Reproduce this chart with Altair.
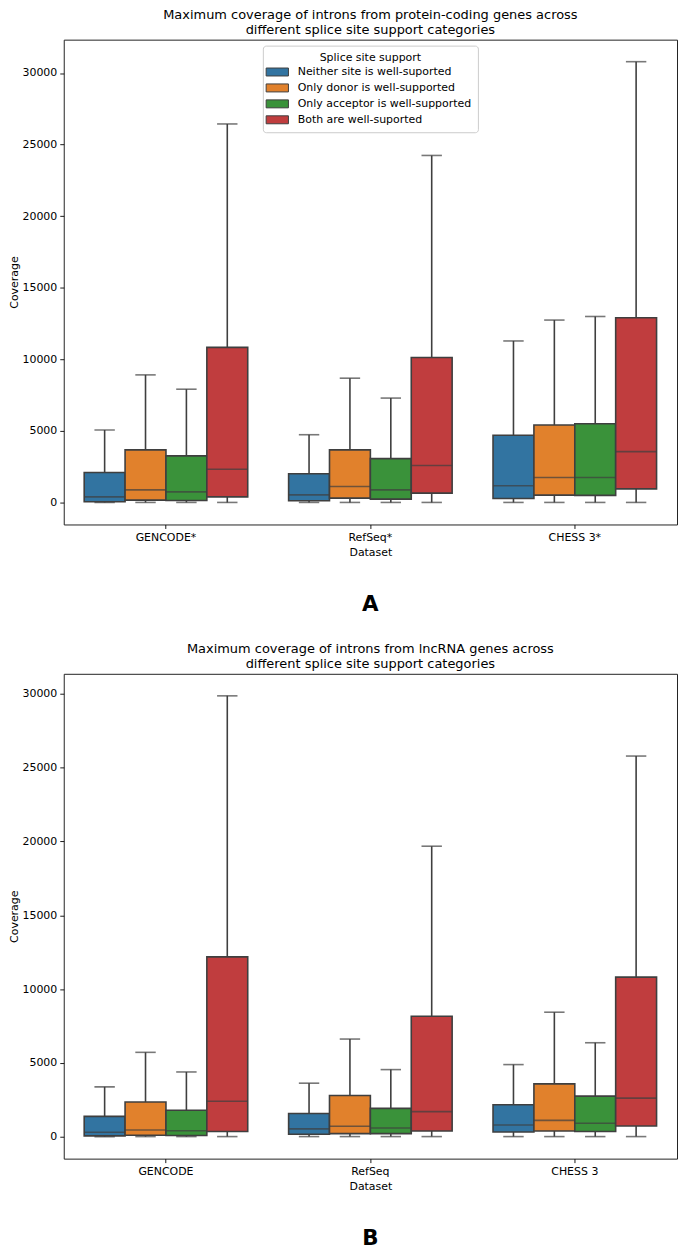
import altair as alt
import pandas as pd

categories = [
    "Neither site is well-suported",
    "Only donor is well-supported",
    "Only acceptor is well-supported",
    "Both are well-suported",
]
colors = ["#3274a1", "#e1812c", "#3a923a", "#c03d3e"]
line_gray = "#3f3f3f"

# Panel A: protein-coding genes (order: dataset-major, category-minor)
datasets_a = ["GENCODE*", "RefSeq*", "CHESS 3*"]
a_low = [0, 0, 0, 0, 0, 0, 0, 0, 0, 0, 0, 0]
a_q1 = [50, 160, 140, 390, 120, 300, 230, 650, 280, 510, 490, 950]
a_med = [390, 880, 740, 2320, 530, 1110, 880, 2580, 1160, 1740, 1740, 3550]
a_q3 = [2090, 3670, 3250, 10830, 2000, 3670, 3060, 10120, 4690, 5410, 5500, 12900]
a_high = [5060, 8910, 7910, 26440, 4730, 8680, 7290, 24240, 11280, 12740, 12990, 30790]
a_domain = [-1540, 32330]

# Panel B: lncRNA genes
datasets_b = ["GENCODE", "RefSeq", "CHESS 3"]
b_low = [0, 0, 0, 0, 0, 0, 0, 0, 0, 0, 0, 0]
b_q1 = [50, 90, 70, 340, 160, 200, 200, 380, 310, 380, 340, 720]
b_med = [290, 450, 400, 2400, 520, 700, 580, 1690, 790, 1100, 900, 2610]
b_q3 = [1370, 2340, 1780, 12180, 1570, 2790, 1910, 8160, 2160, 3570, 2740, 10810]
b_high = [3370, 5710, 4380, 29870, 3620, 6610, 4540, 19680, 4880, 8430, 6360, 25790]
b_domain = [-1494, 31364]

y_ticks = [0, 5000, 10000, 15000, 20000, 25000, 30000]

W, H = 616, 487
FONT = "DejaVu Sans"


def build_df(datasets, low, q1, med, q3, high):
    rows = []
    i = 0
    for d in datasets:
        for c in categories:
            rows.append(dict(Dataset=d, Support=c, low=low[i], q1=q1[i],
                             median=med[i], q3=q3[i], high=high[i]))
            i += 1
    return pd.DataFrame(rows)


def panel(df, datasets, domain, title_lines, letter, show_legend):
    yscale = alt.Scale(domain=domain, nice=False, zero=False)
    base = alt.Chart(df).encode(
        x=alt.X("Dataset:N", sort=datasets,
                scale=alt.Scale(paddingInner=0.2, paddingOuter=0.1),
                axis=alt.Axis(title="Dataset", labelAngle=0, domain=False,
                              tickSize=4, tickColor="black", tickWidth=0.9,
                              labelPadding=3, titlePadding=4,
                              labelFontSize=11, titleFontSize=11,
                              titleFontWeight="normal", labelColor="black",
                              titleColor="black", labelFont=FONT, titleFont=FONT)),
        xOffset=alt.XOffset("Support:N", sort=categories,
                            scale=alt.Scale(paddingInner=0, paddingOuter=0)),
    )
    yaxis = alt.Axis(title="Coverage", values=y_ticks, format="d", grid=False,
                     domain=False, tickSize=4, tickColor="black", tickWidth=0.9,
                     labelPadding=3, titlePadding=2, labelFontSize=11,
                     titleFontSize=11, titleFontWeight="normal",
                     labelColor="black", titleColor="black",
                     labelFont=FONT, titleFont=FONT)
    whisker = base.mark_rule(color=line_gray, strokeWidth=1.6).encode(
        y=alt.Y("low:Q", scale=yscale, axis=yaxis), y2="high:Q")
    cap_lo = base.mark_tick(color=line_gray, size=20.5, thickness=1.6).encode(
        y=alt.Y("low:Q", scale=yscale))
    cap_hi = base.mark_tick(color=line_gray, size=20.5, thickness=1.6).encode(
        y=alt.Y("high:Q", scale=yscale))
    if show_legend:
        legend = alt.Legend(
            title="Splice site support", orient="none", legendX=200, legendY=6,
            symbolType="M-1.4,-0.5H1.4V0.5H-1.4Z", symbolSize=256,
            symbolStrokeColor=line_gray, symbolStrokeWidth=1,
            labelFontSize=11, titleFontSize=11, titleFontWeight="normal",
            labelFont=FONT, titleFont=FONT, labelColor="black", titleColor="black",
            fillColor="white", strokeColor="#cccccc", cornerRadius=3,
            padding=6, rowPadding=1, labelOffset=12, titleAnchor="middle",
            titlePadding=1, labelLimit=300)
    else:
        legend = None
    box = base.mark_bar(stroke=line_gray, strokeWidth=1.6, opacity=1).encode(
        y=alt.Y("q1:Q", scale=yscale), y2="q3:Q",
        color=alt.Color("Support:N", sort=categories,
                        scale=alt.Scale(domain=categories, range=colors),
                        legend=legend))
    med = base.mark_tick(color=line_gray, size=41, thickness=1.6).encode(
        y=alt.Y("median:Q", scale=yscale))
    txt = alt.Chart(pd.DataFrame({"t": [letter]})).mark_text(
        font=FONT, fontSize=21.5, fontWeight="bold", color="black",
        baseline="middle", align="center").encode(
        text="t:N", x=alt.value(W / 2), y=alt.value(H + 81))
    return alt.layer(whisker, cap_lo, cap_hi, box, med, txt).properties(
        width=W, height=H,
        title=alt.TitleParams(title_lines, fontSize=13, font=FONT,
                              fontWeight="normal", color="black",
                              anchor="middle", lineHeight=15, offset=3))


df_a = build_df(datasets_a, a_low, a_q1, a_med, a_q3, a_high)
df_b = build_df(datasets_b, b_low, b_q1, b_med, b_q3, b_high)

chart_a = panel(df_a, datasets_a, a_domain,
                ["Maximum coverage of introns from protein-coding genes across",
                 "different splice site support categories"], "A", True)
chart_b = panel(df_b, datasets_b, b_domain,
                ["Maximum coverage of introns from lncRNA genes across",
                 "different splice site support categories"], "B", False)

chart = alt.vconcat(chart_a, chart_b, spacing=26).resolve_scale(
    x="independent", y="independent", color="independent",
    xOffset="independent").properties(
    padding={"top": -3, "left": 0, "right": 0, "bottom": 0},
    background="white").configure_view(stroke="#222222", strokeWidth=1)

chart.save("out.html", embed_options={"renderer": "svg", "actions": False})
